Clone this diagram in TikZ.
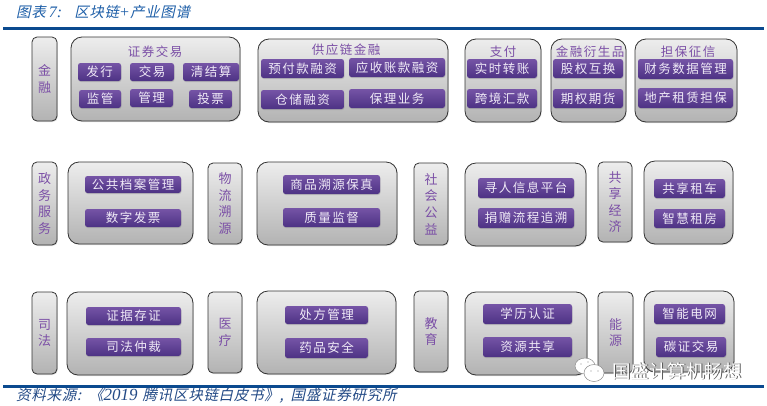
\documentclass[tikz,border=0pt]{standalone}
\usepackage{fontspec}
\usetikzlibrary{shadows,shapes.geometric}
\newfontfamily\cjkplain{Noto Sans CJK SC}
\newfontfamily\cjkspaced[LetterSpace=12]{Noto Sans CJK SC}
\newfontfamily\cjkslant[FakeSlant=0.22,LetterSpace=5]{Noto Sans CJK SC}
\newfontfamily\latinslant{Liberation Serif Italic}
\definecolor{rulecol}{HTML}{0B4A8F}
\definecolor{headcol}{HTML}{1E5FA8}
\definecolor{footcol}{HTML}{234A86}
\definecolor{chiptop}{HTML}{7554A6}
\definecolor{chipbot}{HTML}{4D3284}
\definecolor{chiptext}{HTML}{F0EAF7}
\definecolor{bartext}{HTML}{7B4FA6}
\definecolor{edgecol}{HTML}{333333}
\tikzset{
  x=1pt,y=1pt,
  panelbox/.style={draw=edgecol,line width=0.8pt,rounded corners=11pt,top color=black!7,bottom color=black!30,inner sep=0pt,
    drop shadow={opacity=.25,shadow xshift=0.8pt,shadow yshift=-1pt}},
  sidebar/.style={draw=edgecol,line width=0.8pt,rounded corners=5pt,top color=black!7,bottom color=black!30,inner sep=0pt,
    text=bartext,align=center,font={\cjkplain\fontsize{13}{16.6}\selectfont},
    drop shadow={opacity=.25,shadow xshift=0.8pt,shadow yshift=-1pt}},
  chipbox/.style={rounded corners=2.5pt,top color=chiptop,bottom color=chipbot,inner sep=0pt,text=chiptext,
    font={\cjkspaced\fontsize{12.5}{14}\selectfont},
    drop shadow={opacity=.3,shadow xshift=0.5pt,shadow yshift=-1pt}},
  paneltitle/.style={inner sep=0pt,text=bartext,font={\cjkspaced\fontsize{12.5}{14}\selectfont}},
  rulebar/.style={fill=rulecol,draw=none,inner sep=0pt},
  headtext/.style={inner sep=0pt,anchor=west,text=headcol,font={\fontsize{14.5}{16}\selectfont}},
  foottext/.style={inner sep=0pt,anchor=west,text=footcol,font={\fontsize{14.5}{16}\selectfont}},
  markshade/.style={inner sep=0pt,text=black!65,font={\cjkplain\fontsize{18.5}{20}\selectfont}},
  marktext/.style={inner sep=0pt,text=white,font={\cjkplain\fontsize{18.5}{20}\selectfont}},
  bubble/.style={ellipse,draw=black!45,fill=white,line width=0.5pt,inner sep=0pt},
  bubbledot/.style={circle,fill=black!45,inner sep=0pt,minimum size=1.2pt},
}
% name, x1, y1, x2, y2, style, text (image pixel coordinates)
\newcommand{\placebox}[7]{%
  \node[#6,minimum width={(#4-#2)*1pt},minimum height={(#5-#3)*1pt}] (#1) at ({(#2+#4)/2},{-(#3+#5)/2}) {#7};}
\newcommand{\paneltitlenode}[4]{\node[paneltitle] (#1) at (#2,-#3) {#4};}
\begin{document}
\begin{tikzpicture}
\useasboundingbox (0,0) rectangle (767,-405);
\fill[white] (0,0) rectangle (767,-405);

\node[headtext] (head) at (16,-12) {{\cjkslant 图表}\hspace{3pt}{\latinslant\fontsize{16}{16}\selectfont 7:}\hspace{12pt}{\cjkslant 区块链}{\latinslant\fontsize{16}{16}\selectfont +}{\cjkslant 产业图谱}};
\placebox{toprule}{3}{27}{764}{30}{rulebar}{}

% Row 1
\placebox{barA}{32}{37}{57}{121}{sidebar}{金\\融}
\placebox{pA}{71}{37}{240}{121}{panelbox}{}
\paneltitlenode{tA}{155}{52}{证券交易}
\placebox{c1}{78}{63}{121}{81}{chipbox}{发行}
\placebox{c2}{130}{63}{174}{81}{chipbox}{交易}
\placebox{c3}{183}{63}{239}{81}{chipbox}{清结算}
\placebox{c4}{79}{90}{121}{108}{chipbox}{监管}
\placebox{c5}{130}{89}{173}{107}{chipbox}{管理}
\placebox{c6}{189}{90}{232}{108}{chipbox}{投票}

\placebox{pB}{258}{39}{448}{122}{panelbox}{}
\paneltitlenode{tB}{346}{50}{供应链金融}
\placebox{c7}{261}{59}{344}{78}{chipbox}{预付款融资}
\placebox{c8}{349}{58}{445}{77}{chipbox}{应收账款融资}
\placebox{c9}{261}{90}{344}{109}{chipbox}{仓储融资}
\placebox{c10}{349}{89}{445}{108}{chipbox}{保理业务}

\placebox{pC}{465}{39}{541}{122}{panelbox}{}
\paneltitlenode{tC}{503}{52}{支付}
\placebox{c11}{467}{59}{537}{78}{chipbox}{实时转账}
\placebox{c12}{467}{89}{537}{108}{chipbox}{跨境汇款}

\placebox{pD}{551}{39}{626}{122}{panelbox}{}
\paneltitlenode{tD}{590}{52}{金融衍生品}
\placebox{c13}{553}{59}{623}{78}{chipbox}{股权互换}
\placebox{c14}{553}{89}{623}{108}{chipbox}{期权期货}

\placebox{pE}{635}{39}{737}{122}{panelbox}{}
\paneltitlenode{tE}{688}{52}{担保征信}
\placebox{c15}{638}{59}{733}{79}{chipbox}{财务数据管理}
\placebox{c16}{638}{88}{733}{108}{chipbox}{地产租赁担保}

% Row 2
\placebox{barB}{32}{162}{57}{245}{sidebar}{政\\务\\服\\务}
\placebox{pF}{68}{162}{193}{244}{panelbox}{}
\placebox{c17}{85}{176}{181}{193}{chipbox}{公共档案管理}
\placebox{c18}{85}{209}{181}{227}{chipbox}{数字发票}

\placebox{barC}{208}{163}{242}{244}{sidebar}{物\\流\\溯\\源}
\placebox{pG}{257}{162}{397}{245}{panelbox}{}
\placebox{c19}{283}{175}{380}{194}{chipbox}{商品溯源保真}
\placebox{c20}{283}{208}{380}{227}{chipbox}{质量监督}

\placebox{barD}{414}{163}{448}{245}{sidebar}{社\\会\\公\\益}
\placebox{pH}{465}{163}{586}{246}{panelbox}{}
\placebox{c21}{478}{178}{574}{198}{chipbox}{寻人信息平台}
\placebox{c22}{478}{208}{574}{228}{chipbox}{捐赠流程追溯}

\placebox{barE}{598}{162}{632}{242}{sidebar}{共\\享\\经\\济}
\placebox{pI}{644}{161}{733}{244}{panelbox}{}
\placebox{c23}{654}{179}{725}{198}{chipbox}{共享租车}
\placebox{c24}{654}{209}{725}{228}{chipbox}{智慧租房}

% Row 3
\placebox{barF}{32}{292}{57}{374}{sidebar}{司\\法}
\placebox{pJ}{67}{292}{193}{375}{panelbox}{}
\placebox{c25}{86}{307}{181}{325}{chipbox}{证据存证}
\placebox{c26}{86}{338}{181}{356}{chipbox}{司法仲裁}

\placebox{barG}{208}{292}{242}{373}{sidebar}{医\\疗}
\placebox{pK}{257}{291}{396}{374}{panelbox}{}
\placebox{c27}{285}{306}{368}{324}{chipbox}{处方管理}
\placebox{c28}{285}{338}{368}{358}{chipbox}{药品安全}

\placebox{barH}{414}{291}{448}{372}{sidebar}{教\\育}
\placebox{pL}{465}{292}{587}{375}{panelbox}{}
\placebox{c29}{483}{304}{572}{324}{chipbox}{学历认证}
\placebox{c30}{483}{337}{572}{357}{chipbox}{资源共享}

\placebox{barI}{598}{292}{633}{373}{sidebar}{能\\源}
\placebox{pM}{644}{291}{734}{372}{panelbox}{}
\placebox{c31}{654}{304}{725}{324}{chipbox}{智能电网}
\placebox{c32}{656}{337}{726}{357}{chipbox}{碳证交易}

% Bottom rule and source line
\placebox{botrule}{3}{385}{764}{388}{rulebar}{}
\node[foottext] (foot) at (16,-396) {{\cjkslant 资料来源:}\hspace{8pt}{\cjkslant 《}{\latinslant\fontsize{17}{17}\selectfont 2019}\hspace{5pt}{\cjkslant 腾讯区块链白皮书》,}\hspace{7pt}{\cjkslant 国盛证券研究所}};

% Watermark
\node[bubble,minimum width=20pt,minimum height=16pt] (bubL) at (585,-366) {};
\node[bubble,minimum width=20pt,minimum height=17pt] (bubR) at (594,-373) {};
\node[bubbledot] (dot1) at (581,-364) {};
\node[bubbledot] (dot2) at (588,-362) {};
\node[bubbledot] (dot3) at (591,-371) {};
\node[bubbledot] (dot4) at (598,-371) {};
\node[markshade] (markS) at (677.8,-371.8) {国盛计算机畅想};
\node[marktext] (markT) at (677,-371) {国盛计算机畅想};
\end{tikzpicture}
\end{document}
